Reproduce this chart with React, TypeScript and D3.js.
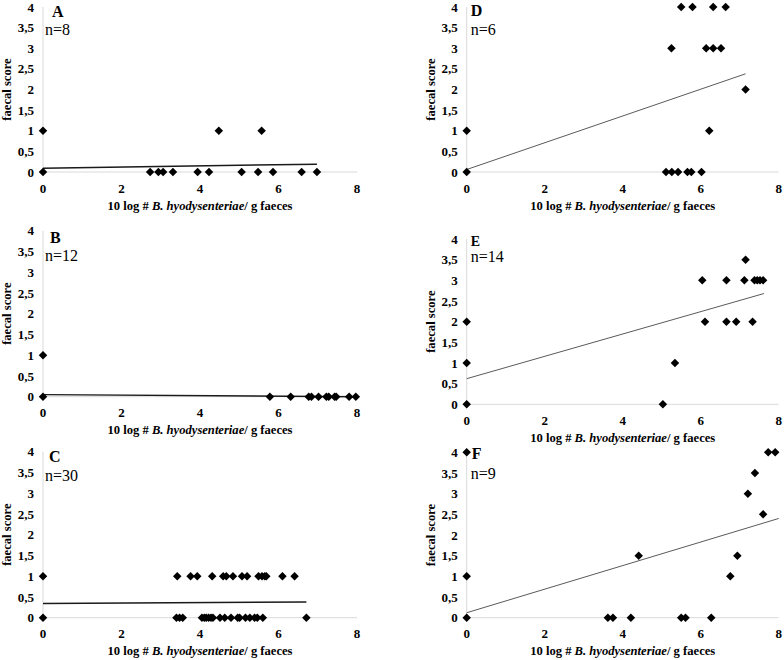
import React from "react";
import * as d3 from "d3";

const xTicks = [0, 2, 4, 6, 8];
const yTicks = [0, 0.5, 1, 1.5, 2, 2.5, 3, 3.5, 4];
const yTickLabels = ["0", "0,5", "1", "1,5", "2", "2,5", "3", "3,5", "4"];
const xTitleBold1 = "10 log # ";
const xTitleItalic = "B. hyodysenteriae";
const xTitleBold2 = "/ g faeces";
const yTitle = "faecal score";

const panelLetters = ["A", "B", "C", "D", "E", "F"];
const panelN = ["n=8", "n=12", "n=30", "n=6", "n=14", "n=9"];

// Panel A
const aX = [0, 2.73, 2.94, 3.06, 3.31, 3.94, 4.23, 5.06, 5.48, 5.86, 6.59, 6.98, 0, 4.48, 5.57];
const aY = [0, 0, 0, 0, 0, 0, 0, 0, 0, 0, 0, 0, 1, 1, 1];
const aTrend = [0, 0.09, 6.98, 0.19];

// Panel B
const bX = [0, 5.78, 6.31, 6.77, 6.84, 7.02, 7.22, 7.28, 7.43, 7.47, 7.8, 7.97, 0];
const bY = [0, 0, 0, 0, 0, 0, 0, 0, 0, 0, 0, 0, 1];
const bTrend = [0, 0.05, 7.97, 0.0];

// Panel C
const cX = [0, 3.42, 3.76, 3.93, 4.31, 4.59, 4.67, 4.84, 5.07, 5.2, 5.49, 5.58, 5.65, 5.69, 6.1, 6.41,
  0, 3.4, 3.48, 3.56, 4.05, 4.11, 4.16, 4.22, 4.28, 4.33, 4.51, 4.63, 4.79, 4.96, 5.01, 5.16, 5.27, 5.39, 5.46, 5.6, 6.71];
const cY = [1, 1, 1, 1, 1, 1, 1, 1, 1, 1, 1, 1, 1, 1, 1, 1,
  0, 0, 0, 0, 0, 0, 0, 0, 0, 0, 0, 0, 0, 0, 0, 0, 0, 0, 0, 0, 0];
const cTrend = [0, 0.345, 6.71, 0.377];

// Panel D
const dX = [5.5, 5.79, 6.32, 6.64, 5.25, 6.14, 6.32, 6.52, 7.15, 0, 6.22, 0, 5.11, 5.26, 5.42, 5.66, 5.76, 6.02];
const dY = [4, 4, 4, 4, 3, 3, 3, 3, 2, 1, 1, 0, 0, 0, 0, 0, 0, 0];
const dTrend = [0, 0.06, 7.15, 2.38];

// Panel E
const eX = [7.15, 6.04, 6.66, 7.12, 7.38, 7.45, 7.52, 7.6, 0, 6.11, 6.66, 6.91, 7.33, 0, 5.34, 0, 5.03];
const eY = [3.5, 3, 3, 3, 3, 3, 3, 3, 2, 2, 2, 2, 2, 1, 1, 0, 0];
const eTrend = [0, 0.62, 7.62, 2.68];

// Panel F
const fX = [0, 7.73, 7.91, 7.39, 7.21, 7.6, 4.41, 6.94, 0, 6.76, 0, 3.62, 3.75, 4.21, 5.5, 5.61, 6.27];
const fY = [4, 4, 4, 3.5, 3, 2.5, 1.5, 1.5, 1, 1, 0, 0, 0, 0, 0, 0, 0];
const fTrend = [0, 0.12, 8, 2.4];

const panelXs = [aX, bX, cX, dX, eX, fX];
const panelYs = [aY, bY, cY, dY, eY, fY];
const panelTrends = [aTrend, bTrend, cTrend, dTrend, eTrend, fTrend];

// layout
const layouts = [
  { left: 43, right: 357, top: 7, bottom: 172, lx: 9, ly: 10, nx: 2, ny: 28, lf: 16, dark: true },
  { left: 43, right: 357, top: 230.7, bottom: 396.7, lx: 7, ly: 12, nx: 2, ny: 30, lf: 16, dark: true },
  { left: 43, right: 357, top: 451.7, bottom: 617.7, lx: 6, ly: 10, nx: 2, ny: 29, lf: 16, dark: true },
  { left: 466.7, right: 778.7, top: 7, bottom: 172, lx: 4, ly: 9, nx: 4, ny: 27.5, lf: 16, dark: false },
  { left: 466.7, right: 778.7, top: 239, bottom: 404.3, lx: 4, ly: 7, nx: 4, ny: 23, lf: 14, dark: false },
  { left: 466.7, right: 778.7, top: 452.3, bottom: 617.7, lx: 5, ly: 7, nx: 4, ny: 27, lf: 16, dark: false },
];

const FONT = "'Liberation Serif', 'Times New Roman', serif";

function Panel({ i }: { i: number }) {
  const L = layouts[i];
  const x = d3.scaleLinear().domain([0, 8]).range([L.left, L.right]);
  const y = d3.scaleLinear().domain([0, 4]).range([L.bottom, L.top]);
  const xs = panelXs[i];
  const ys = panelYs[i];
  const t = panelTrends[i];
  const sym = d3.symbol().type(d3.symbolDiamond2).size(46)();
  const line = d3.line<[number, number]>().x((d) => x(d[0])).y((d) => y(d[1]));
  const midY = (L.top + L.bottom) / 2;
  return (
    <g>
      <line x1={L.left} x2={L.left} y1={L.top} y2={L.bottom} stroke="#d9d9d9" strokeWidth={1} />
      <line x1={L.left} x2={L.right} y1={L.bottom} y2={L.bottom} stroke="#d9d9d9" strokeWidth={1} />
      {yTicks.map((v, k) => (
        <text key={"y" + k} x={L.left - 9} y={y(v)} dy="0.35em" textAnchor="end"
          fontFamily={FONT} fontWeight="bold" fontSize={13} fill="#000">{yTickLabels[k]}</text>
      ))}
      {xTicks.map((v, k) => (
        <text key={"x" + k} x={x(v)} y={L.bottom + 20.5} textAnchor="middle"
          fontFamily={FONT} fontWeight="bold" fontSize={13} fill="#000">{v}</text>
      ))}
      <text x={(L.left + L.right) / 2} y={L.bottom + 37.5} textAnchor="middle"
        fontFamily={FONT} fontWeight="bold" fontSize={12.6} fill="#000">
        {xTitleBold1}<tspan fontStyle="italic">{xTitleItalic}</tspan>{xTitleBold2}
      </text>
      <text transform={`translate(${L.left - 32},${midY}) rotate(-90)`} textAnchor="middle"
        fontFamily={FONT} fontWeight="bold" fontSize={12.6} fill="#000">{yTitle}</text>
      <path d={line([[t[0], t[1]], [t[2], t[3]]]) || ""} fill="none"
        stroke={L.dark ? "#1a1a1a" : "#5a5a5a"} strokeWidth={L.dark ? 1.5 : 1} />
      {xs.map((v, k) => (
        <path key={"p" + k} d={sym} transform={`translate(${x(v)},${y(ys[k])})`} fill="#000" />
      ))}
      <text x={L.left + L.lx} y={L.top + L.ly} fontFamily={FONT} fontWeight="bold" fontSize={L.lf} fill="#000">
        {panelLetters[i]}
      </text>
      <text x={L.left + L.nx} y={L.top + L.ny} fontFamily={FONT} fontSize={16} fill="#000">
        {panelN[i]}
      </text>
    </g>
  );
}

export default function App() {
  return (
    <svg width={784} height={660} style={{ position: "absolute", left: 0, top: 0, background: "#fff" }}>
      <rect width={784} height={660} fill="#fff" />
      {[0, 1, 2, 3, 4, 5].map((i) => (
        <Panel key={i} i={i} />
      ))}
    </svg>
  );
}
